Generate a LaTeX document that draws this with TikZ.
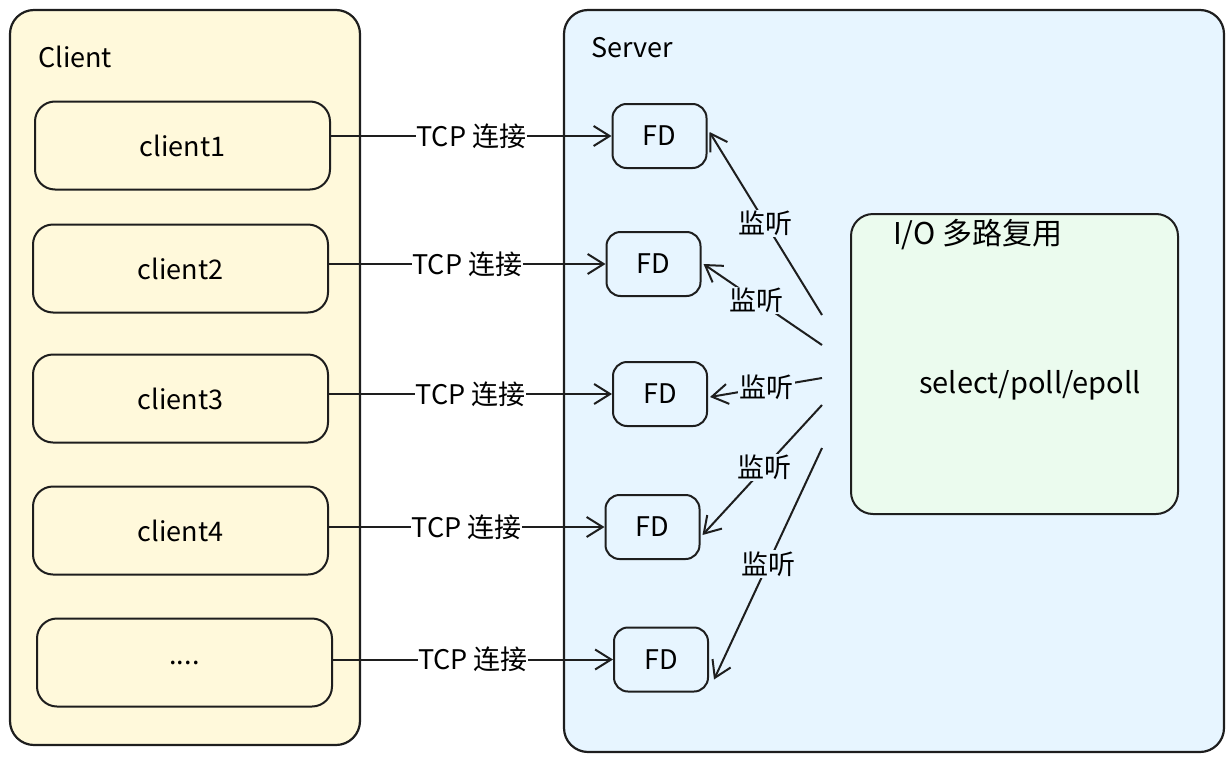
\documentclass[tikz,border=0pt]{standalone}
\usepackage{fontspec}
\setmainfont{Noto Sans CJK SC}
\usetikzlibrary{arrows.meta}
\definecolor{cyellow}{HTML}{FFF9DB}
\definecolor{cblue}{HTML}{E7F5FF}
\definecolor{cgreen}{HTML}{EBFBEE}
\definecolor{ink}{HTML}{1E1E1E}
\begin{document}
\begin{tikzpicture}[x=1pt,y=-1pt,
  outer/.style={draw=ink, line width=2.2pt, rounded corners=24pt, inner sep=0pt},
  cbox/.style={draw=ink, fill=cyellow, line width=2pt, rounded corners=20pt, minimum width=295pt, minimum height=88pt, inner sep=0pt, font=\fontsize{27}{30}\selectfont},
  fdbox/.style={draw=ink, fill=cblue, line width=2pt, rounded corners=14pt, minimum width=94pt, minimum height=64pt, inner sep=0pt, font=\fontsize{27}{30}\selectfont},
  tcp/.style={draw=ink, line width=2.6pt, -{Straight Barb[length=16pt,width=20pt,line width=2pt]}},
  listen/.style={draw=ink, line width=2pt, -{Straight Barb[length=16pt,width=20pt,line width=2pt]}},
  tcplbl/.style={fill=white, inner sep=0.5pt, font=\fontsize{27}{30}\selectfont},
  lsnlbl/.style={fill=cblue, inner sep=1.5pt, font=\fontsize{27}{30}\selectfont},
  title/.style={anchor=west, inner sep=0pt, font=\fontsize{27}{30}\selectfont}
]
\useasboundingbox (0,0) rectangle (1232,763);
% containers
\node[outer, fill=cyellow, minimum width=350pt, minimum height=735pt] (client) at (185,377.5) {};
\node[outer, fill=cblue, minimum width=660pt, minimum height=742pt] (server) at (894,381) {};
\node[outer, fill=cgreen, line width=2pt, rounded corners=22pt, minimum width=327pt, minimum height=300pt] (io) at (1014.5,364) {};
\node[title] (clientlbl) at (38,57) {Client};
\node[title] (serverlbl) at (591,48) {Server};
\node[title, font=\fontsize{30}{34}\selectfont] (iolbl) at (893,235) {I/O 多路复用};
\node[inner sep=0pt, font=\fontsize{29}{33}\selectfont] (sel) at (1030,385) {select/poll/epoll};
% clients
\node[cbox] (c1) at (182.5,145.5) {client1};
\node[cbox] (c2) at (180.5,268.5) {client2};
\node[cbox] (c3) at (180.5,398.5) {client3};
\node[cbox] (c4) at (180.5,530.5) {client4};
\node[cbox] (c5) at (184.5,662.5) {....};
% FDs
\node[fdbox] (fd1) at (659.5,136) {FD};
\node[fdbox] (fd2) at (653.5,264) {FD};
\node[fdbox] (fd3) at (660,394) {FD};
\node[fdbox] (fd4) at (652.5,527) {FD};
\node[fdbox] (fd5) at (661,659.5) {FD};
% TCP connections
\draw[tcp] (c1.east |- fd1.west) -- node[tcplbl] {TCP 连接} (fd1.west);
\draw[tcp] (c2.east |- fd2.west) -- node[tcplbl] {TCP 连接} (fd2.west);
\draw[tcp] (c3.east |- fd3.west) -- node[tcplbl] {TCP 连接} (fd3.west);
\draw[tcp] (c4.east |- fd4.west) -- node[tcplbl] {TCP 连接} (fd4.west);
\draw[tcp, line width=2pt] (c5.east |- fd5.west) -- node[tcplbl] {TCP 连接} (fd5.west);
% listen sources
\coordinate (s1) at (822,315);
\coordinate (s2) at (822,345);
\coordinate (s3) at (822,378);
\coordinate (s4) at (822,405);
\coordinate (s5) at (822,448);
\draw[listen] (s1) -- node[lsnlbl, pos=0.5] {监听} ([xshift=2pt,yshift=4pt]fd1.east);
\draw[listen] (s2) -- node[lsnlbl, pos=0.55] {监听} ([xshift=2pt]fd2.east);
\draw[listen] (s3) -- node[lsnlbl, pos=0.5] {监听} ([xshift=2pt,yshift=-3pt]fd3.east);
\draw[listen] (s4) -- node[lsnlbl, pos=0.48] {监听} ([xshift=2pt,yshift=-8pt]fd4.east);
\draw[listen] (s5) -- node[lsnlbl, pos=0.5] {监听} ([xshift=5pt,yshift=-20pt]fd5.east);
\end{tikzpicture}
\end{document}
